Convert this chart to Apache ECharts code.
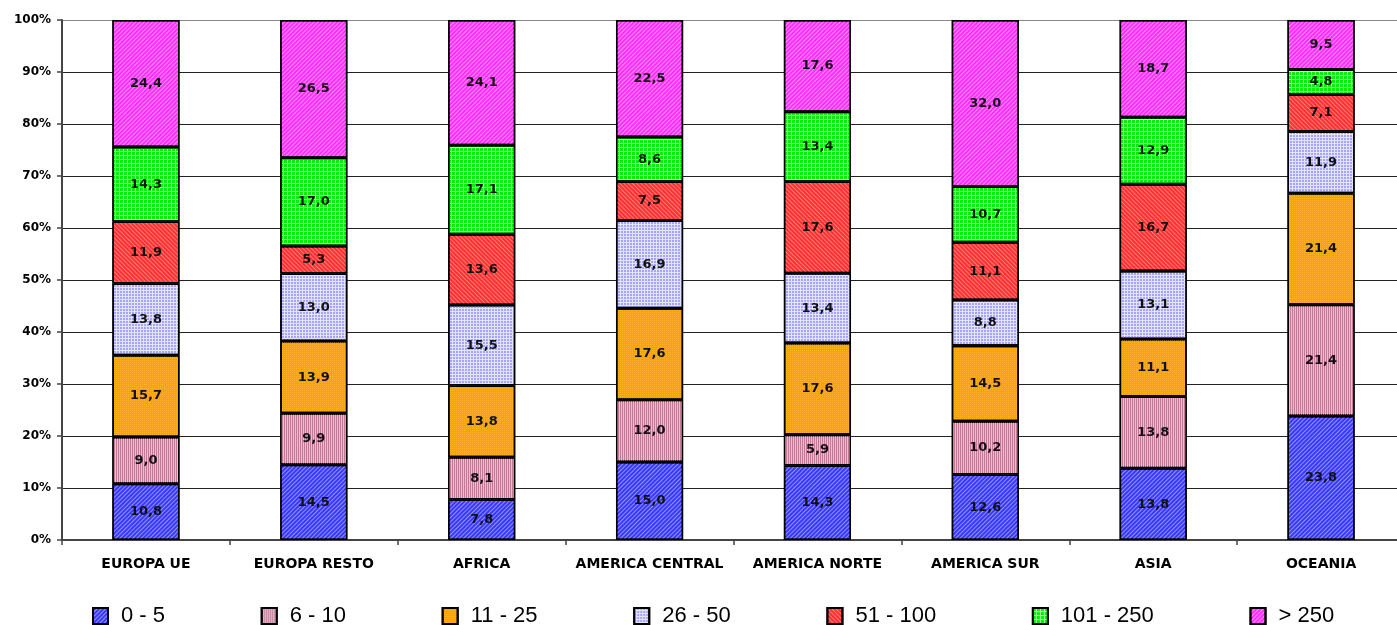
<!DOCTYPE html>
<html>
<head>
<meta charset="utf-8">
<script src="https://cdn.jsdelivr.net/npm/echarts@6/dist/echarts.min.js"></script>
<style>
html,body{margin:0;padding:0;background:#fff;overflow:hidden;}
#chart{width:1397px;height:625px;}
</style>
</head>
<body>
<div id="chart"></div>
<script>
var categories = ['EUROPA UE','EUROPA RESTO','AFRICA','AMERICA CENTRAL','AMERICA NORTE','AMERICA SUR','ASIA','OCEANIA'];
var seriesNames = ['0 - 5','6 - 10','11 - 25','26 - 50','51 - 100','101 - 250','> 250'];
var v0_5     = [10.8,14.5, 7.8,15.0,14.3,12.6,13.8,23.8];
var v6_10    = [ 9.0, 9.9, 8.1,12.0, 5.9,10.2,13.8,21.4];
var v11_25   = [15.7,13.9,13.8,17.6,17.6,14.5,11.1,21.4];
var v26_50   = [13.8,13.0,15.5,16.9,13.4, 8.8,13.1,11.9];
var v51_100  = [11.9, 5.3,13.6, 7.5,17.6,11.1,16.7, 7.1];
var v101_250 = [14.3,17.0,17.1, 8.6,13.4,10.7,12.9, 4.8];
var vGt250   = [24.4,26.5,24.1,22.5,17.6,32.0,18.7, 9.5];
var yTicks = [0,10,20,30,40,50,60,70,80,90,100];

var allValues = [v0_5,v6_10,v11_25,v26_50,v51_100,v101_250,vGt250];
var totals = categories.map(function(c,i){
  var s=0; allValues.forEach(function(a){s+=a[i];}); return s;
});

var styles = [
  {color:'#3838ff', decal:{symbol:'rect',symbolSize:1,color:'rgba(255,255,255,0.45)',dashArrayX:[1,0],dashArrayY:[1,2],rotation:-Math.PI/4}},
  {color:'#c07a96', decal:{symbol:'rect',symbolSize:1,color:'#ecbdd0',dashArrayX:[1,0],dashArrayY:[1,1],rotation:Math.PI/2}},
  {color:'#ffa200', decal:{symbol:'rect',symbolSize:1,color:'#ffb428',dashArrayX:[1,1],dashArrayY:[1,1],rotation:0}},
  {color:'#e4e4ff', decal:{symbol:'rect',symbolSize:1,color:'#a4a4ff',dashArrayX:[2,1],dashArrayY:[2,1],rotation:0}},
  {color:'#ff3030', decal:{symbol:'rect',symbolSize:1,color:'rgba(255,170,170,0.6)',dashArrayX:[1,0],dashArrayY:[1,2],rotation:Math.PI/4}},
  {color:'#a8ffa8', decal:{symbol:'rect',symbolSize:1,color:'#00f000',dashArrayX:[3,1],dashArrayY:[3,1],rotation:0}},
  {color:'#ff2eff', decal:{symbol:'rect',symbolSize:1,color:'rgba(255,255,255,0.45)',dashArrayX:[1,0],dashArrayY:[1,2],rotation:-Math.PI/4}}
];

var series = allValues.map(function(arr, si){
  return {
    name: seriesNames[si],
    type: 'bar',
    stack: 'total',
    barWidth: '40%',
    data: arr.map(function(v,i){ return v / totals[i] * 100; }),
    itemStyle: {color: styles[si].color, decal: styles[si].decal, borderColor:'#000', borderWidth:1.5},
    label: {
      show: true,
      position: 'inside',
      fontFamily: 'DejaVu Sans',
      fontWeight: 'bold',
      fontSize: 13,
      color: '#111',
      formatter: function(p){ return arr[p.dataIndex].toFixed(1).replace('.', ','); }
    },
    emphasis: {disabled: true}
  };
});

var chart = echarts.init(document.getElementById('chart'), null, {renderer:'canvas'});
chart.setOption({
  animation: false,
  backgroundColor: '#ffffff',
  grid: {left: 62, width: 1343, top: 20, bottom: 85, containLabel: false, outerBoundsMode: 'none'},
  legend: {
    data: seriesNames,
    left: 92,
    top: 605,
    padding: 0,
    itemWidth: 15,
    itemHeight: 16,
    itemGap: 95.7,
    icon: 'rect',
    textStyle: {fontFamily: 'Liberation Sans, Arial', fontSize: 22, color: '#000', padding: [0,0,0,8]}
  },
  xAxis: {
    type: 'category',
    data: categories,
    axisLine: {lineStyle: {color: '#444', width: 2}},
    axisTick: {show: true, length: 5, lineStyle: {color: '#444', width: 1.5}},
    axisLabel: {fontFamily: 'DejaVu Sans', fontWeight: 'bold', fontSize: 14, color: '#000', margin: 17, interval: 0}
  },
  yAxis: {
    type: 'value',
    min: yTicks[0],
    max: yTicks[yTicks.length-1],
    interval: 10,
    axisLine: {show: true, lineStyle: {color: '#444', width: 2}},
    axisTick: {show: true, length: 5, lineStyle: {color: '#444', width: 1.5}},
    axisLabel: {fontFamily: 'DejaVu Sans', fontWeight: 'bold', fontSize: 12, color: '#000', margin: 11, formatter: '{value}%'},
    splitLine: {show: true, lineStyle: {color: ['#222','#222','#222','#222','#222','#222','#222','#222','#222','#222','#888'], width: 1}}
  },
  series: series
});
</script>
</body>
</html>
